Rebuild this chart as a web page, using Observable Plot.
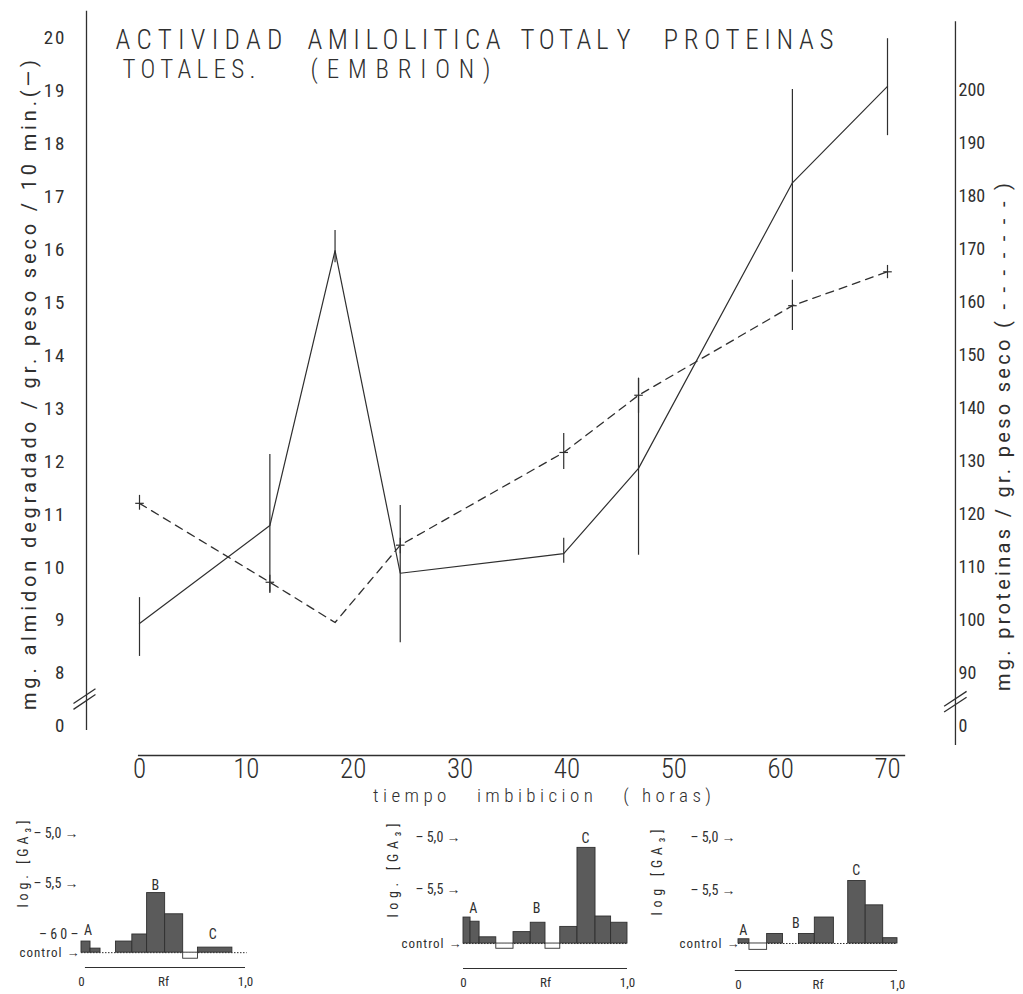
<!DOCTYPE html>
<html><head><meta charset="utf-8">
<script src="https://cdn.jsdelivr.net/npm/d3@7"></script>
<script src="https://cdn.jsdelivr.net/npm/@observablehq/plot@0.6"></script>
<style>
html,body{margin:0;padding:0;background:#fff;overflow:hidden;}
#page{position:relative;width:1023px;height:994px;background:#fff;}
#page svg{position:absolute;}
</style></head><body><div id="page"></div>
<script>
// ---------- main chart data ----------
const hours      = [0, 12.2, 18.3, 24.4, 39.7, 46.7, 61.1, 70];
const amylase    = [8.94, 10.79, 15.98, 9.89, 10.26, 11.87, 17.26, 19.08];
const amylaseLo  = [8.32, 9.51, 15.75, 8.58, 10.08, 10.23, 15.57, 18.15];
const amylaseHi  = [9.43, 12.13, 16.36, 11.17, 10.55, 13.57, 19.02, 19.98];
const protein    = [122.1, 107.2, 99.6, 114.2, 131.7, 142.5, 159.4, 165.8];
const proteinLo  = [120.8, 105.3, null, 112.6, 128.5, 139.1, 154.7, 164.5];
const proteinHi  = [123.6, 108.5, null, 115.5, 135.3, 145.7, 164.2, 167.0];
const xTicks     = [0, 10, 20, 30, 40, 50, 60, 70];
const leftTicks  = [7, 8, 9, 10, 11, 12, 13, 14, 15, 16, 17, 18, 19, 20];
const leftLabels = ["0", "8", "9", "10", "11", "12", "13", "14", "15", "16", "17", "18", "19", "20"];
const rightTicks = [80, 90, 100, 110, 120, 130, 140, 150, 160, 170, 180, 190, 200];
const rightLabels= ["0", "90", "100", "110", "120", "130", "140", "150", "160", "170", "180", "190", "200"];
const leftTitle  = "mg. almidon degradado / gr. peso seco / 10 min.(—)";
const rightTitle = "mg. proteinas / gr. peso seco ( - - - - - - - )";
const xTitle     = "tiempo   imbibicion   ( horas)";
const titleLine1 = ["ACTIVIDAD", "AMILOLITICA", "TOTAL", "Y", "PROTEINAS"];
const titleLine2 = ["TOTALES.", "(EMBRION)"];

// ---------- histogram data (Rf bins, log [GA3]) ----------
const h1From = [0, 0.055, 0.21, 0.31, 0.40, 0.51, 0.62, 0.71];
const h1To   = [0.055, 0.116, 0.31, 0.40, 0.51, 0.62, 0.71, 0.92];
const h1Val  = [-6.07, -6.14, -6.07, -6.00, -5.59, -5.80, -6.24, -6.13];
const h1Control = -6.18;
const h1Ticks = [-5.0, -5.5, -6.0];
const h1TickText = ["– 5,0 →", "– 5,5 →", "– 6 0 –"];
const h1Letters = ["A", "B", "C"], h1LetterRf = [0.04, 0.45, 0.80], h1LetterV = [-5.96, -5.515, -6.0];

const h2From = [0, 0.043, 0.098, 0.20, 0.305, 0.41, 0.50, 0.59, 0.695, 0.805, 0.90];
const h2To   = [0.043, 0.098, 0.20, 0.305, 0.41, 0.50, 0.59, 0.695, 0.805, 0.90, 1.0];
const h2Val  = [-5.77, -5.81, -5.96, -6.07, -5.91, -5.82, -6.07, -5.86, -5.10, -5.76, -5.82];
const h2Control = -6.02;
const h2Ticks = [-5.0, -5.5];
const h2TickText = ["– 5,0 →", "– 5,5 →"];
const h2Letters = ["A", "B", "C"], h2LetterRf = [0.06, 0.445, 0.744], h2LetterV = [-5.68, -5.68, -5.01];

const h3From = [0, 0.069, 0.18, 0.38, 0.48, 0.69, 0.80, 0.91];
const h3To   = [0.069, 0.18, 0.28, 0.48, 0.60, 0.80, 0.91, 1.0];
const h3Val  = [-5.96, -6.06, -5.91, -5.91, -5.755, -5.41, -5.64, -5.95];
const h3Control = -6.0;
const h3Ticks = [-5.0, -5.5];
const h3TickText = ["– 5,0 →", "– 5,5 →"];
const h3Letters = ["A", "B", "C"], h3LetterRf = [0.03, 0.36, 0.74], h3LetterV = [-5.88, -5.81, -5.31];

const rfTicks = [0, 0.5, 1];
const rfLabels = ["0", "Rf", "1,0"];

// ---------- styling ----------
const INK = "#2f2f2f";
const BAR = "#5b5b5b";
const FONT = '"Roboto Condensed", "Liberation Sans Narrow", Roboto, "Liberation Sans", sans-serif';
const FONT_WIDE = 'Roboto, "Liberation Sans", sans-serif';
const page = document.getElementById("page");

function fitText(svg, content, len) {
  svg.querySelectorAll("text").forEach(t => {
    if (t.textContent === content) {
      t.setAttribute("textLength", len);
      t.setAttribute("lengthAdjust", "spacing");
    }
  });
}
function styleText(svg, content, attrs) {
  svg.querySelectorAll("text").forEach(t => {
    if (t.textContent === content) for (const k in attrs) t.setAttribute(k, attrs[k]);
  });
}

// ---------- main (left scale) ----------
const amyRows = hours.map((h, i) => ({h, v: amylase[i], lo: amylaseLo[i], hi: amylaseHi[i]}));
const protRows = hours.map((h, i) => ({h, v: protein[i], lo: proteinLo[i], hi: proteinHi[i]}));
const protErr = protRows.filter(d => d.lo != null);
const leftMap = new Map(leftTicks.map((t, i) => [t, leftLabels[i]]));
const rightMap = new Map(rightTicks.map((t, i) => [t, rightLabels[i]]));

const LEFT_AXIS_H = -4.96, RIGHT_AXIS_H = 76.36;
const leftBreak = [{x1: -6.18, y1: 7.43, x2: -4.12, y2: 7.71}, {x1: -6.18, y1: 7.32, x2: -4.12, y2: 7.60}];
const rightBreak = [{x1: 75.3, y1: 83.8, x2: 77.4, y2: 86.6}, {x1: 75.3, y1: 82.7, x2: 77.4, y2: 85.5}];

const common = {
  width: 1023, height: 810,
  marginLeft: 86, marginRight: 68, marginTop: 8, marginBottom: 55,
  style: {background: "transparent", color: INK, fontFamily: FONT}
};

const mainPlot = Plot.plot({
  ...common,
  x: {domain: [0, 70], range: [139, 887], label: null},
  y: {domain: [6.45, 20.55], range: [755, 8], label: null},
  marks: [
    Plot.ruleX([LEFT_AXIS_H], {y1: 6.92, y2: 20.5, stroke: INK, strokeWidth: 1.3}),
    Plot.link(leftBreak, {x1: "x1", y1: "y1", x2: "x2", y2: "y2", stroke: INK, strokeWidth: 1.3}),
    Plot.ruleY([6.45], {x1: -0.1, x2: 71.7, stroke: INK, strokeWidth: 1.3}),
    Plot.axisY({anchor: "left", ticks: leftTicks, tickFormat: d => leftMap.get(d), tickSize: 0, tickPadding: 20, fontSize: 19}),
    Plot.axisX({ticks: xTicks, tickSize: 0, tickPadding: 3, fontSize: 27, label: null}),
    Plot.ruleX(amyRows, {x: "h", y1: "lo", y2: "hi", stroke: INK, strokeWidth: 1.2}),
    Plot.line(amyRows, {x: "h", y: "v", stroke: INK, strokeWidth: 1.2}),
    Plot.text([leftTitle], {frameAnchor: "left", dx: -57, dy: 328, rotate: -90, textAnchor: "start", fontSize: 20, fontFamily: FONT_WIDE, fill: INK}),
    Plot.text([xTitle], {frameAnchor: "bottom", dx: -148, dy: 46, textAnchor: "start", fontSize: 19, fontWeight: 300, fill: INK}),
  ]
});
mainPlot.style.left = "0px"; mainPlot.style.top = "0px";
page.appendChild(mainPlot);
mainPlot.querySelectorAll('g[aria-label="y-axis tick label"] text').forEach(t => t.setAttribute("letter-spacing", "2"));
mainPlot.querySelectorAll('g[aria-label="x-axis tick label"] text').forEach(t => t.setAttribute("font-weight", "300"));
fitText(mainPlot, leftTitle, 650);
fitText(mainPlot, xTitle, 338);

// ---------- overlay (right scale: proteins) ----------
const line1X = [[115, 282], [307, 500], [520, 608], [616, 630], [663, 833]];
const line2X = [[122, 255], [310, 490]];
const titleMarks = [
  ...titleLine1.map((w, i) => Plot.text([w], {frameAnchor: "top-left", dx: line1X[i][0] - 86, dy: 21, textAnchor: "start", fontSize: 27, fontWeight: 300, fill: INK})),
  ...titleLine2.map((w, i) => Plot.text([w], {frameAnchor: "top-left", dx: line2X[i][0] - 86, dy: 51.5, textAnchor: "start", fontSize: 25, fontWeight: 300, fill: INK})),
];
const overlay = Plot.plot({
  ...common,
  x: {domain: [0, 70], range: [139, 887], axis: null, label: null},
  y: {domain: [74.5, 215.5], range: [755, 8], label: null},
  marks: [
    Plot.ruleX([RIGHT_AXIS_H], {y1: 76.4, y2: 213, stroke: INK, strokeWidth: 1.3}),
    Plot.link(rightBreak, {x1: "x1", y1: "y1", x2: "x2", y2: "y2", stroke: INK, strokeWidth: 1.3}),
    Plot.axisY({anchor: "right", ticks: rightTicks, tickFormat: d => rightMap.get(d), tickSize: 0, tickPadding: 3, fontSize: 18}),
    Plot.ruleX(protErr, {x: "h", y1: "lo", y2: "hi", stroke: INK, strokeWidth: 1.2}),
    Plot.link(protErr, {x1: d => d.h - 0.4, x2: d => d.h + 0.4, y1: "v", y2: "v", stroke: INK, strokeWidth: 1.2}),
    Plot.line(protRows, {x: "h", y: "v", stroke: INK, strokeWidth: 1.3, strokeDasharray: "8,6"}),
    Plot.text([rightTitle], {frameAnchor: "right", dx: 48, dy: 309, rotate: -90, textAnchor: "start", fontSize: 20, fontFamily: FONT_WIDE, fill: INK}),
    ...titleMarks
  ]
});
overlay.style.left = "0px"; overlay.style.top = "0px";
page.appendChild(overlay);
fitText(overlay, rightTitle, 508);
titleLine1.forEach((w, i) => fitText(overlay, w, line1X[i][1] - line1X[i][0]));
titleLine2.forEach((w, i) => fitText(overlay, w, line2X[i][1] - line2X[i][0]));

// ---------- histograms ----------
function histogram(p) {
  const bars = p.from.map((a, i) => ({a, b: p.to[i], v: p.val[i]}));
  const ticks = p.ticks.map((v, i) => ({v, t: p.tickText[i]}));
  const letters = p.letters.map((t, i) => ({t, x: p.letterRf[i], y: p.letterV[i]}));
  const rfMap = new Map(rfTicks.map((t, i) => [t, rfLabels[i]]));
  const svg = Plot.plot({
    width: p.width, height: 214,
    marginLeft: 0, marginRight: 0, marginTop: 0, marginBottom: 214 - p.axisY,
    style: {background: "transparent", color: INK, fontFamily: FONT},
    x: {domain: [0, 1], range: p.xRange, label: null},
    y: {domain: p.yDomain, range: [p.axisY, 42], axis: null, label: null},
    marks: [
      Plot.ruleY([p.control], {x1: 0, x2: p.baseEnd, stroke: INK, strokeWidth: 1, strokeDasharray: "1.5,1.5"}),
      Plot.rect(bars, {x1: "a", x2: "b", y1: p.control, y2: "v",
        fill: d => d.v < p.control ? "white" : BAR, stroke: INK, strokeWidth: 0.9}),
      Plot.ruleY([p.yDomain[0]], {x1: p.axisFrom, x2: 1, stroke: INK, strokeWidth: 1.2}),
      Plot.axisX({ticks: rfTicks, tickFormat: d => rfMap.get(d), tickSize: 0, tickPadding: 9, fontSize: 13}),
      Plot.text(ticks, {x: 0, y: "v", text: "t", textAnchor: "end", dx: p.tickDx, fontSize: 14, fill: INK}),
      Plot.text([p.controlText], {x: 0, y: p.control, textAnchor: "end", dx: p.controlDx, fontSize: 13, fill: INK}),
      Plot.text(letters, {x: "x", y: "y", text: "t", fontSize: 14, fill: INK}),
      Plot.text([p.logText], {frameAnchor: "top-left", dx: p.logX, dy: p.logY, rotate: -90, textAnchor: "start", fontSize: 14, fill: INK})
    ]
  });
  svg.style.left = p.left + "px"; svg.style.top = "780px";
  page.appendChild(svg);
  fitText(svg, p.logText, p.logLen);
  styleText(svg, p.controlText, {"letter-spacing": "1"});
}

histogram({left: 0, width: 280, xRange: [81, 245], yDomain: [-6.327, -4.891], axisY: 187,
  from: h1From, to: h1To, val: h1Val, control: h1Control, baseEnd: 1.01, axisFrom: 0.024,
  ticks: h1Ticks, tickText: h1TickText, tickDx: -3, controlText: "control →", controlDx: -1,
  letters: h1Letters, letterRf: h1LetterRf, letterV: h1LetterV,
  logText: "log. [GA₃]", logX: 18, logY: 127, logLen: 87});
histogram({left: 360, width: 280, xRange: [103, 267], yDomain: [-6.26, -4.856], axisY: 188,
  from: h2From, to: h2To, val: h2Val, control: h2Control, baseEnd: 1.0, axisFrom: 0,
  ticks: h2Ticks, tickText: h2TickText, tickDx: -3, controlText: "control →", controlDx: -1,
  letters: h2Letters, letterRf: h2LetterRf, letterV: h2LetterV,
  logText: "log. [GA₃]", logX: 28, logY: 137, logLen: 94});
histogram({left: 640, width: 300, xRange: [98, 257], yDomain: [-6.255, -4.858], axisY: 190,
  from: h3From, to: h3To, val: h3Val, control: h3Control, baseEnd: 1.0, axisFrom: -0.02,
  ticks: h3Ticks, tickText: h3TickText, tickDx: -3, controlText: "control →", controlDx: 2,
  letters: h3Letters, letterRf: h3LetterRf, letterV: h3LetterV,
  logText: "log [GA₃]", logX: 12, logY: 135, logLen: 86});
</script>
</body></html>
